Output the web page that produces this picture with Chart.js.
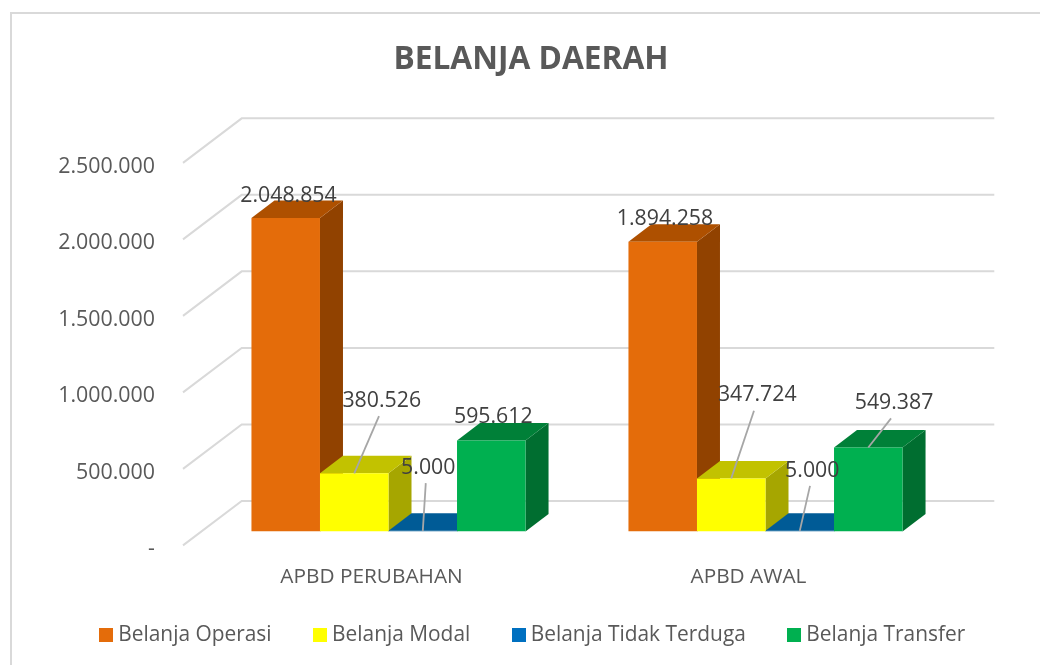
<!DOCTYPE html>
<html><head><meta charset="utf-8">
<style>html,body{margin:0;padding:0;background:#fff}canvas{display:block}</style>
<script src="https://cdn.jsdelivr.net/npm/chart.js@4"></script>
</head><body>
<canvas id="c" width="1040" height="665"></canvas>
<script>
const categories = ['APBD PERUBAHAN', 'APBD AWAL'];
const belanjaOperasi = [2048854, 1894258];
const belanjaModal = [380526, 347724];
const belanjaTidakTerduga = [5000, 5000];
const belanjaTransfer = [595612, 549387];
const yTickLabels = ['-', '500.000', '1.000.000', '1.500.000', '2.000.000', '2.500.000'];
const valueLabels = [['2.048.854','1.894.258'],['380.526','347.724'],['5.000','5.000'],['595.612','549.387']];

const FONT = '"Open Sans"';
const series = [
  {label:'Belanja Operasi', data:belanjaOperasi, front:'#e46c0a', top:'#ae5000', side:'#914200', key:'#e46c0a'},
  {label:'Belanja Modal', data:belanjaModal, front:'#ffff00', top:'#c2c200', side:'#a6a600', key:'#ffff00'},
  {label:'Belanja Tidak Terduga', data:belanjaTidakTerduga, front:'#005b96', top:'#005b96', side:'#004a7a', key:'#0070c0'},
  {label:'Belanja Transfer', data:belanjaTransfer, front:'#00b050', top:'#008038', side:'#006e30', key:'#00b050'}
];
// layout of the pseudo-3D projection
const WALL = {dx:58.7, dy:44.5, right:994.3};
const BAR = {dx:17, dy:13.8, depthX:23, depthY:17.5};
// label placement relative to the top-centre of each bar: [labelDx,labelDy,leaderDx,leaderDy]
const labelPlacement = [
  [[2.75,-22],[2.25,-22.7]],
  [[27.5,-72.3,24.75,-57.3],[26,-83,22.75,-67.6]],
  [[5.5,-62.7,3,-47.7],[12.5,-60.4,10.25,-45]],
  [[2,-23.4],[25.75,-44.5,22.75,-29.2]]
];
function swatch(color){
  const s=document.createElement('canvas'); s.width=14; s.height=14;
  const x=s.getContext('2d'); x.fillStyle=color; x.fillRect(0,0,14,14); return s;
}
const swatches = series.map(s=>swatch(s.key));

const projection = {
  id:'projection',
  afterLayout(chart){
    // let category labels use the space down to the legend row, and nudge the title
    chart.scales.x.bottom += 24;
    chart.titleBlock.left -= 4; chart.titleBlock.right -= 4;
  },
  beforeDraw(chart){
    const c=chart.ctx; c.save();
    c.strokeStyle='#d9d9d9'; c.lineWidth=2;
    c.beginPath(); c.moveTo(11,670); c.lineTo(11,13); c.lineTo(1045,13); c.stroke();
    c.restore();
  },
  beforeDatasetsDraw(chart){
    const c=chart.ctx, y=chart.scales.y, left=chart.chartArea.left;
    c.save();
    c.strokeStyle='#d9d9d9'; c.lineWidth=2; c.lineCap='butt';
    y.ticks.forEach(t=>{
      const p=y.getPixelForValue(t.value);
      c.beginPath(); c.moveTo(left,p); c.lineTo(left+WALL.dx,p-WALL.dy); c.lineTo(WALL.right,p-WALL.dy); c.stroke();
    });
    c.restore();
    c.save();
    c.translate(BAR.dx,-BAR.dy);
    series.forEach((s,i)=>{
      chart.getDatasetMeta(i).data.forEach(b=>{
        const L=b.x-b.width/2,R=b.x+b.width/2,T=b.y,B=b.base,dx=BAR.depthX,dy=BAR.depthY;
        c.fillStyle=s.side;
        c.beginPath();c.moveTo(R,T);c.lineTo(R+dx,T-dy);c.lineTo(R+dx,B-dy);c.lineTo(R,B);c.closePath();c.fill();
        c.fillStyle=s.top;
        c.beginPath();c.moveTo(L,T);c.lineTo(L+dx,T-dy);c.lineTo(R+dx,T-dy);c.lineTo(R,T);c.closePath();c.fill();
      });
    });
    // fronts are drawn by Chart.js inside this translated context
  },
  afterDatasetsDraw(chart){
    const c=chart.ctx;
    c.restore();
    c.save();
    c.textAlign='center'; c.textBaseline='middle';
    c.font='21.3px '+FONT; 
    series.forEach((s,i)=>{
      chart.getDatasetMeta(i).data.forEach((b,j)=>{
        const px=b.x+BAR.dx, py=b.y-BAR.dy, pl=labelPlacement[i][j];
        if(pl.length>2){
          c.strokeStyle='#a6a6a6'; c.lineWidth=1.8;
          c.beginPath(); c.moveTo(px,py); c.lineTo(px+pl[2],py+pl[3]); c.stroke();
        }
        c.fillStyle='#404040';
        c.fillText(valueLabels[i][j],px+pl[0],py+pl[1]);
      });
    });
    c.restore();
  }
};

new Chart(document.getElementById('c'),{
  type:'bar',
  data:{labels:categories,datasets:series.map(s=>({label:s.label,data:s.data,backgroundColor:s.front,borderWidth:0,categoryPercentage:0.727,barPercentage:1}))},
  plugins:[projection],
  options:{
    responsive:false,animation:false,
    layout:{padding:{left:30,right:0,top:0,bottom:10}},
    scales:{
      x:{grid:{display:false},border:{display:false},
        ticks:{color:'#595959',font:{family:FONT,size:20.8},padding:11.5,maxRotation:0},
        afterFit(s){s.height=31.7;}},
      y:{min:0,max:2500000,grid:{display:false},border:{display:false},
        ticks:{stepSize:500000,color:'#595959',font:{family:FONT,size:21.4},padding:20,labelOffset:4,callback:(v,i)=>yTickLabels[i]},
        afterFit(s){s.width=153;}},
      y2:{position:'right',display:true,grid:{display:false},border:{display:false},ticks:{display:false},
        afterFit(s){s.width=103;}}
    },
    plugins:{
      title:{display:true,text:'BELANJA DAERAH',color:'#595959',font:{family:FONT,size:31.7,weight:'bold',lineHeight:1.2},padding:{top:41,bottom:83.8}},
      tooltip:{enabled:false},
      legend:{position:'bottom',labels:{
        color:'#595959',font:{family:FONT,size:20.9},padding:47,usePointStyle:true,pointStyleWidth:3,boxHeight:14,
        generateLabels:()=>series.map((s,i)=>({text:s.label,fontColor:'#595959',fillStyle:s.key,strokeStyle:s.key,lineWidth:0,pointStyle:swatches[i],datasetIndex:i,hidden:false}))
      }}
    }
  }
});
</script>
</body></html>
